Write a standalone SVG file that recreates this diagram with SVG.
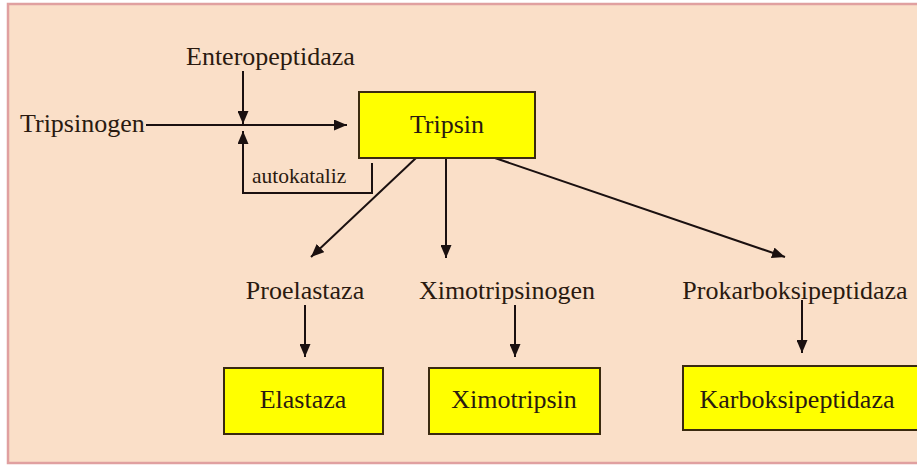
<svg xmlns="http://www.w3.org/2000/svg" width="917" height="466" viewBox="0 0 917 466">
<defs>
<marker id="ah" markerWidth="13" markerHeight="11" refX="13" refY="5.5" orient="auto" markerUnits="userSpaceOnUse">
<path d="M0,0 L13,5.5 L0,11 z" fill="#1a1010"/>
</marker>
<style>
.t{font-family:"Liberation Serif","Times New Roman",serif;font-size:26px;fill:#2a1a10}
.s{font-family:"Liberation Serif","Times New Roman",serif;font-size:21.5px;fill:#2a1a10}
.box{fill:#ffff00;stroke:#3a2a10;stroke-width:2}
.c{fill:none;stroke:#1a1010;stroke-width:2}
.a{marker-end:url(#ah)}
</style>
</defs>
<rect x="0" y="0" width="917" height="466" fill="#ffffff"/>
<rect x="8" y="4" width="920" height="459" fill="#fadfc8" stroke="#e0a0a0" stroke-width="2.5"/>
<g id="connectors">
<line class="c a" x1="146" y1="125" x2="347" y2="125"/>
<line class="c a" x1="243" y1="71" x2="243" y2="124"/>
<polyline class="c a" points="372,163 372,193 243,193 243,131"/>
<line class="c a" x1="416" y1="158" x2="311" y2="257"/>
<line class="c a" x1="446" y1="158" x2="446" y2="258"/>
<line class="c a" x1="495" y1="158" x2="785" y2="257"/>
<line class="c a" x1="305" y1="305" x2="305" y2="357"/>
<line class="c a" x1="515" y1="305" x2="515" y2="357"/>
<line class="c a" x1="802" y1="300" x2="802" y2="353"/>
</g>
<g id="tripsinogen"><text class="t" x="20" y="132">Tripsinogen</text></g>
<g id="enteropeptidaza"><text class="t" x="186" y="65">Enteropeptidaza</text></g>
<g id="autokataliz"><text class="s" x="252" y="183">autokataliz</text></g>
<g id="tripsin"><rect class="box" x="359" y="92" width="176" height="66"/><text class="t" x="447" y="133" text-anchor="middle">Tripsin</text></g>
<g id="proelastaza"><text class="t" x="305" y="299" text-anchor="middle">Proelastaza</text></g>
<g id="ximotripsinogen"><text class="t" x="507" y="299" text-anchor="middle">Ximotripsinogen</text></g>
<g id="prokarboksipeptidaza"><text class="t" x="795" y="299" text-anchor="middle">Prokarboksipeptidaza</text></g>
<g id="elastaza"><rect class="box" x="224" y="368" width="159" height="66"/><text class="t" x="303" y="408" text-anchor="middle">Elastaza</text></g>
<g id="ximotripsin"><rect class="box" x="429" y="368" width="171" height="66"/><text class="t" x="514" y="408" text-anchor="middle">Ximotripsin</text></g>
<g id="karboksipeptidaza"><rect class="box" x="683" y="366" width="240" height="64"/><text class="t" x="797" y="408" text-anchor="middle">Karboksipeptidaza</text></g>
</svg>
